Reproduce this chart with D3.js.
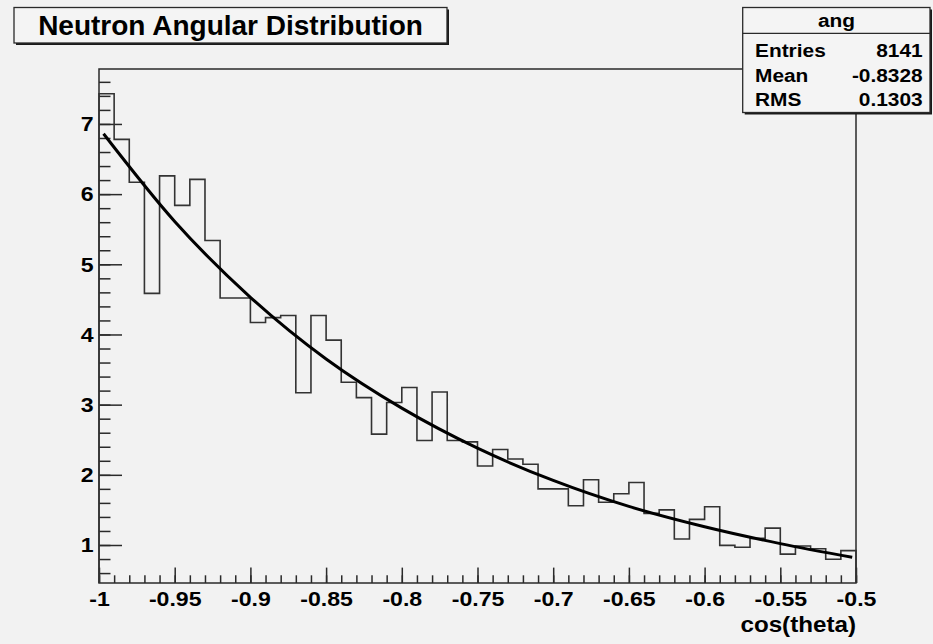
<!DOCTYPE html>
<html>
<head>
<meta charset="utf-8">
<script src="https://cdn.jsdelivr.net/npm/d3@7"></script>
<style>
  html, body { margin: 0; padding: 0; background: #f2f2f2; }
  svg { display: block; }
</style>
</head>
<body>
<svg id="chart" width="933" height="644"></svg>
<script>
// histogram "ang" : 50 equal bins of cos(theta) between -1 and -0.5
var histRange = [-1, -0.5];
var binContents = [
  7.43, 6.78, 6.17, 4.585, 6.26, 5.84, 6.21, 5.34, 4.52, 4.52,
  4.17, 4.24, 4.27, 3.17, 4.27, 3.92, 3.32, 3.10, 2.58, 3.03,
  3.245, 2.49, 3.18, 2.49, 2.47, 2.125, 2.36, 2.225, 2.15, 1.80,
  1.80, 1.56, 1.93, 1.61, 1.73, 1.89, 1.45, 1.50, 1.085, 1.365,
  1.545, 0.995, 0.967, 1.095, 1.24, 0.87, 0.985, 0.947, 0.796, 0.92
];

// fitted curve
var fitX = [-0.997, -0.95, -0.9, -0.85, -0.8, -0.75, -0.7, -0.65, -0.6, -0.55, -0.5025];
var fitY = [6.86, 5.61, 4.53, 3.65, 2.95, 2.38, 1.92, 1.55, 1.26, 1.02, 0.825];

var yRange = [0.4585, 7.783];
var xTicks = [-1, -0.95, -0.9, -0.85, -0.8, -0.75, -0.7, -0.65, -0.6, -0.55, -0.5];
var xTickLabels = ["-1", "-0.95", "-0.9", "-0.85", "-0.8", "-0.75", "-0.7", "-0.65", "-0.6", "-0.55", "-0.5"];
var yTicks = [1, 2, 3, 4, 5, 6, 7];
var yTickLabels = ["1", "2", "3", "4", "5", "6", "7"];

var titleText = "Neutron Angular Distribution";
var xAxisTitle = "cos(theta)";
var statsName = "ang";
var statsLabels = ["Entries", "Mean", "RMS"];
var statsValues = ["8141", "-0.8328", "0.1303"];

// frame
var frame = {left: 99, right: 856, top: 69, bottom: 583};
var lineCol = "#2a2a2a";
var font = "'Liberation Sans', Arial, Helvetica, sans-serif";

var svg = d3.select("#chart");

svg.append("rect")
  .attr("width", 933).attr("height", 644)
  .attr("fill", "#f2f2f2");

var x = d3.scaleLinear().domain(histRange).range([frame.left, frame.right]);
var y = d3.scaleLinear().domain(yRange).range([frame.bottom, frame.top]);

// frame box
svg.append("rect")
  .attr("x", frame.left).attr("y", frame.top)
  .attr("width", frame.right - frame.left)
  .attr("height", frame.bottom - frame.top)
  .attr("fill", "#f2f2f2")
  .attr("stroke", lineCol)
  .attr("stroke-width", 1.5);

// minor ticks
var yMinor = svg.append("g")
  .attr("transform", "translate(" + frame.left + ",0)")
  .call(d3.axisLeft(y).tickValues(y.ticks(40)).tickSizeInner(-11.5).tickSizeOuter(0).tickFormat(""));
var xMinor = svg.append("g")
  .attr("transform", "translate(0," + frame.bottom + ")")
  .call(d3.axisBottom(x).tickValues(x.ticks(50)).tickSizeInner(-7.7).tickSizeOuter(0).tickFormat(""));

// major ticks + labels
var yAxis = svg.append("g")
  .attr("transform", "translate(" + frame.left + ",0)")
  .call(d3.axisLeft(y).tickValues(yTicks).tickSizeInner(-23).tickSizeOuter(0).tickPadding(5)
    .tickFormat(function(d, i) { return yTickLabels[i]; }));
var xAxis = svg.append("g")
  .attr("transform", "translate(0," + frame.bottom + ")")
  .call(d3.axisBottom(x).tickValues(xTicks).tickSizeInner(-15.4).tickSizeOuter(0).tickPadding(8)
    .tickFormat(function(d, i) { return xTickLabels[i]; }));

[yMinor, xMinor, yAxis, xAxis].forEach(function(g) {
  g.select(".domain").remove();
  g.selectAll(".tick line").attr("stroke", lineCol).attr("stroke-width", 1.5);
});
// the original labels are a wide helvetica, so stretch a bit
[yAxis, xAxis].forEach(function(g) {
  g.selectAll(".tick text")
    .attr("fill", "#000")
    .attr("transform", "scale(1.1,1)")
    .style("font-family", font)
    .style("font-weight", "bold")
    .style("font-size", "21px");
});

// histogram outline
var n = binContents.length;
var binW = (histRange[1] - histRange[0]) / n;
var pts = [[x(histRange[0]), y(yRange[0])]];
binContents.forEach(function(v, i) {
  var lo = histRange[0] + i * binW;
  pts.push([x(lo), y(v)]);
  pts.push([x(lo + binW), y(v)]);
});
pts.push([x(histRange[1]), y(yRange[0])]);

svg.append("path")
  .attr("d", d3.line()(pts))
  .attr("fill", "none")
  .attr("stroke", "#333")
  .attr("stroke-width", 1.6);

// fit
svg.append("path")
  .datum(fitX.map(function(d, i) { return [d, fitY[i]]; }))
  .attr("d", d3.line()
    .x(function(d) { return x(d[0]); })
    .y(function(d) { return y(d[1]); })
    .curve(d3.curveMonotoneX))
  .attr("fill", "none")
  .attr("stroke", "#000")
  .attr("stroke-width", 3);

// stretched text helper
function label(px, py, str, size, anchor, sx) {
  return svg.append("text")
    .attr("transform", "translate(" + px + "," + py + ") scale(" + sx + ",1)")
    .attr("text-anchor", anchor)
    .style("font-family", font)
    .style("font-weight", "bold")
    .style("font-size", size + "px")
    .text(str);
}

// x axis title
label(frame.right, 632, xAxisTitle, 22, "end", 1.1);

// title / stats paves with shadow
function pave(x0, y0, w, h) {
  svg.append("rect")
    .attr("x", x0 + 2).attr("y", y0 + 2)
    .attr("width", w).attr("height", h)
    .attr("fill", "#1a1a1a");
  svg.append("rect")
    .attr("x", x0).attr("y", y0)
    .attr("width", w).attr("height", h)
    .attr("fill", "#f4f4f4")
    .attr("stroke", lineCol)
    .attr("stroke-width", 1.3);
}

pave(14, 7.5, 433, 35.5);
label(230.5, 35, titleText, 28, "middle", 1);

pave(742.7, 7.5, 187.3, 105);
svg.append("line")
  .attr("x1", 742.7).attr("x2", 930)
  .attr("y1", 33.3).attr("y2", 33.3)
  .attr("stroke", lineCol).attr("stroke-width", 1.3);

label(836.5, 27, statsName, 18, "middle", 1.16);

var rowY = [56.5, 81.5, 106];
statsLabels.forEach(function(lab, i) {
  label(755, rowY[i], lab, 18, "start", 1.16);
  label(922.7, rowY[i], statsValues[i], 18, "end", 1.16);
});
</script>
</body>
</html>
